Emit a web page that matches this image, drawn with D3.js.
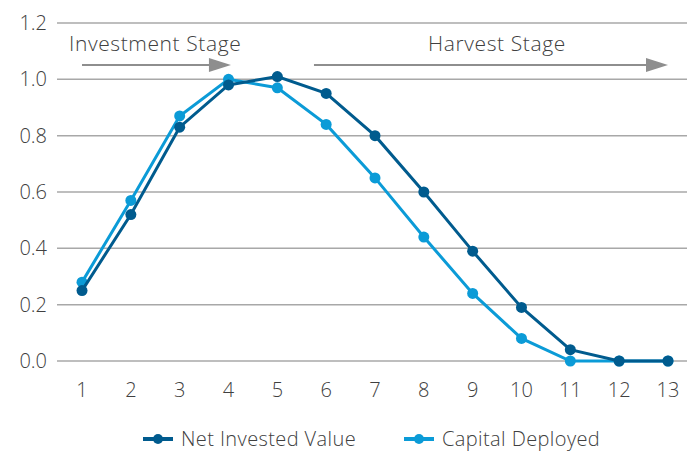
<!DOCTYPE html>
<html>
<head>
<meta charset="utf-8">
<script src="https://cdn.jsdelivr.net/npm/d3@7"></script>
<style>
  body { margin: 0; background: #fff; }
  text { font-family: "Open Sans", "Lato", sans-serif; font-weight: 300; fill: #404040; }
</style>
</head>
<body>
<div id="chart"></div>
<script>
var years = [1, 2, 3, 4, 5, 6, 7, 8, 9, 10, 11, 12, 13];
var netInvested = [0.25, 0.52, 0.83, 0.98, 1.01, 0.95, 0.80, 0.60, 0.39, 0.19, 0.04, 0.0, 0.0];
var capitalDeployed = [0.28, 0.57, 0.87, 1.00, 0.97, 0.84, 0.65, 0.44, 0.24, 0.08, 0.0, 0.0, 0.0];
var yTicks = [0, 0.2, 0.4, 0.6, 0.8, 1.0, 1.2];
var stages = [
    { label: "Investment Stage", from: 1, to: 4.05 },
    { label: "Harvest Stage", from: 5.75, to: 13 }
];

var width = 687, height = 451;
var darkBlue = "#005b8e", lightBlue = "#0b9bd7";

var svg = d3.select("#chart")
    .append("svg")
    .attr("width", width)
    .attr("height", height);

var x = d3.scalePoint()
    .domain(years)
    .range([57.6, 692.4])
    .padding(0.5);

// linear version of x for the stage arrows
var xl = d3.scaleLinear()
    .domain([1, 13])
    .range([x(1), x(13)]);

var y = d3.scaleLinear()
    .domain([0, 1.2])
    .range([361, 23]);

// gridlines
svg.append("g")
    .selectAll("line")
    .data(yTicks)
    .enter()
    .append("line")
    .attr("x1", 57)
    .attr("x2", width)
    .attr("y1", function (d) { return y(d); })
    .attr("y2", function (d) { return y(d); })
    .attr("stroke", "#a8a8a8")
    .attr("stroke-width", 1.5);

// y labels
svg.append("g")
    .selectAll("text")
    .data(yTicks)
    .enter()
    .append("text")
    .attr("x", 47)
    .attr("y", function (d) { return y(d); })
    .attr("dy", "0.35em")
    .attr("text-anchor", "end")
    .attr("font-size", 20)
    .text(function (d) { return d.toFixed(1); });

// x labels
svg.append("g")
    .selectAll("text")
    .data(years)
    .enter()
    .append("text")
    .attr("x", function (d) { return x(d); })
    .attr("y", 390)
    .attr("dy", "0.35em")
    .attr("text-anchor", "middle")
    .attr("font-size", 20)
    .text(function (d) { return d; });

// stage arrows
var stage = svg.append("g")
    .selectAll("g")
    .data(stages)
    .enter()
    .append("g");

stage.append("line")
    .attr("x1", function (d) { return xl(d.from); })
    .attr("x2", function (d) { return xl(d.to) - 18; })
    .attr("y1", 65)
    .attr("y2", 65)
    .attr("stroke", "#8e8e8e")
    .attr("stroke-width", 2);

stage.append("path")
    .attr("d", function (d) {
        var tip = xl(d.to);
        return "M" + tip + ",65L" + (tip - 22) + ",58L" + (tip - 22) + ",72Z";
    })
    .attr("fill", "#8e8e8e");

stage.append("text")
    .attr("x", function (d, i) { return i === 0 ? 69 : (xl(d.from) + xl(d.to)) / 2 + 6; })
    .attr("y", 51)
    .attr("text-anchor", function (d, i) { return i === 0 ? "start" : "middle"; })
    .attr("font-size", 21)
    .attr("letter-spacing", 0.6)
    .text(function (d) { return d.label; });

// series lines, dark on top
var series = [
    { name: "Net Invested Value", values: netInvested, color: darkBlue },
    { name: "Capital Deployed", values: capitalDeployed, color: lightBlue }
];

var line = d3.line()
    .x(function (d, i) { return x(years[i]); })
    .y(function (d) { return y(d); });

var drawOrder = [series[1], series[0]];

drawOrder.forEach(function (s) {
    var g = svg.append("g");
    g.append("path")
        .datum(s.values)
        .attr("d", line)
        .attr("fill", "none")
        .attr("stroke", s.color)
        .attr("stroke-width", 3);
    g.selectAll("circle")
        .data(s.values)
        .enter()
        .append("circle")
        .attr("cx", function (d, i) { return x(years[i]); })
        .attr("cy", function (d) { return y(d); })
        .attr("r", 5.5)
        .attr("fill", s.color);
});

// legend
var legendX = [143, 404];
var legend = svg.append("g")
    .selectAll("g")
    .data(series)
    .enter()
    .append("g")
    .attr("transform", function (d, i) { return "translate(" + legendX[i] + ",439)"; });

legend.append("line")
    .attr("x1", 0)
    .attr("x2", 30)
    .attr("stroke", function (d) { return d.color; })
    .attr("stroke-width", 4);

legend.append("circle")
    .attr("cx", 15)
    .attr("r", 5)
    .attr("fill", function (d) { return d.color; });

legend.append("text")
    .attr("x", 38)
    .attr("dy", "0.35em")
    .attr("font-size", 20)
    .attr("letter-spacing", 0.4)
    .text(function (d) { return d.name; });
</script>
</body>
</html>
